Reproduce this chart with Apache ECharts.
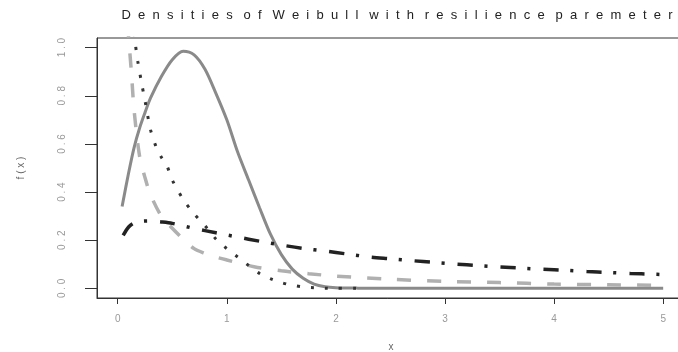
<!DOCTYPE html>
<html>
<head>
<meta charset="utf-8">
<script src="https://cdn.jsdelivr.net/npm/echarts@6/dist/echarts.min.js"></script>
<style>
  html, body { margin: 0; padding: 0; background: #fff; }
  #chart { width: 678px; height: 352px; }
</style>
</head>
<body>
<div id="chart"></div>
<script>
// 曲线数据
var solidX = [0.04, 0.1, 0.15, 0.2, 0.25, 0.3, 0.4, 0.5, 0.6, 0.7, 0.8, 0.9, 1.0, 1.1, 1.2, 1.3, 1.4, 1.5, 1.6, 1.7, 1.8, 1.9, 2.0, 2.2, 2.5, 3, 3.5, 4, 4.5, 5];
var solidY = [0.34, 0.48, 0.585, 0.665, 0.73, 0.79, 0.88, 0.95, 0.985, 0.97, 0.91, 0.81, 0.70, 0.565, 0.45, 0.335, 0.225, 0.14, 0.08, 0.042, 0.018, 0.007, 0.003, 0.001, 0, 0, 0, 0, 0, 0];

var dashX = [0.09, 0.1, 0.125, 0.15, 0.2, 0.25, 0.3, 0.4, 0.5, 0.6, 0.7, 0.8, 0.9, 1.0, 1.25, 1.5, 1.75, 2.0, 2.5, 3.0, 3.5, 4.0, 4.5, 5.0];
var dashY = [1.10, 1.04, 0.90, 0.74, 0.55, 0.46, 0.39, 0.30, 0.25, 0.205, 0.165, 0.145, 0.13, 0.118, 0.09, 0.073, 0.061, 0.051, 0.038, 0.029, 0.024, 0.018, 0.015, 0.013];

var dotX = [0.15, 0.16, 0.185, 0.22, 0.25, 0.3, 0.35, 0.4, 0.45, 0.5, 0.6, 0.7, 0.8, 0.9, 1.0, 1.1, 1.2, 1.3, 1.4, 1.5, 1.6, 1.7, 1.8, 1.9, 2.0, 2.2];
var dotY = [1.06, 1.02, 0.94, 0.85, 0.78, 0.66, 0.59, 0.545, 0.51, 0.45, 0.37, 0.31, 0.26, 0.205, 0.165, 0.13, 0.095, 0.062, 0.04, 0.024, 0.013, 0.006, 0.003, 0.001, 0, 0];

var dotdashX = [0.05, 0.1, 0.15, 0.2, 0.3, 0.4, 0.5, 0.7, 0.9, 1.1, 1.3, 1.5, 1.7, 1.9, 2.1, 2.3, 2.5, 2.7, 2.9, 3.1, 3.3, 3.5, 3.7, 3.9, 4.1, 4.3, 4.5, 4.7, 4.9, 5.0];
var dotdashY = [0.22, 0.255, 0.272, 0.278, 0.28, 0.276, 0.27, 0.249, 0.231, 0.213, 0.196, 0.180, 0.166, 0.155, 0.143, 0.131, 0.123, 0.115, 0.108, 0.101, 0.095, 0.089, 0.084, 0.079, 0.075, 0.07, 0.066, 0.062, 0.059, 0.057];

var xTicks = [0, 1, 2, 3, 4, 5];
var yTicks = [0, 0.2, 0.4, 0.6, 0.8, 1.0];

function pairs(xs, ys) {
  var arr = [];
  for (var i = 0; i < xs.length; i++) arr.push([xs[i], ys[i]]);
  return arr;
}
function spaced(s, gap) { return s.split('').join(gap || ' '); }
// 标题：字母间两个空格，单词间三个空格
function spacedTitle(s) {
  return s.split(' ').map(function (w) { return spaced(w, '  '); }).join('   ');
}

var myChart = echarts.init(document.getElementById('chart'));
var font = 'Liberation Sans, Arial, sans-serif';

var option = {
  animation: false,
  title: {
    text: spacedTitle('Densities of Weibull with resilience paremeter'),
    left: 392,
    textAlign: 'center',
    top: 4,
    textStyle: { fontFamily: font, fontSize: 13, fontWeight: 'normal', color: '#222' }
  },
  grid: {
    left: 97, top: 38, right: -7, bottom: 54,
    outerBoundsMode: 'none',
    show: true, borderColor: '#333', borderWidth: 1
  },
  xAxis: {
    type: 'value',
    min: -0.19, max: 5.2,
    name: 'x',
    nameLocation: 'middle',
    nameGap: 44,
    nameTextStyle: { fontFamily: font, fontSize: 10, color: '#666' },
    splitLine: { show: false },
    axisLine: { show: true, onZero: false, lineStyle: { color: '#333' } },
    axisTick: { show: true, customValues: xTicks, length: 6, lineStyle: { color: '#333' } },
    axisLabel: { customValues: xTicks, margin: 16, fontFamily: font, fontSize: 10, color: '#999' }
  },
  yAxis: {
    type: 'value',
    min: -0.04, max: 1.04,
    name: spaced('f(x)'),
    nameLocation: 'middle',
    nameGap: 71,
    nameTextStyle: { fontFamily: font, fontSize: 10, color: '#666' },
    splitLine: { show: false },
    axisLine: { show: true, onZero: false, lineStyle: { color: '#333' } },
    axisTick: { show: true, customValues: yTicks, length: 12, lineStyle: { color: '#333' } },
    axisLabel: {
      customValues: yTicks, rotate: 90, margin: 30,
      fontFamily: font, fontSize: 10, color: '#999',
      formatter: function (v) { return spaced(v.toFixed(1)); }
    }
  },
  series: [
    {
      type: 'line', data: pairs(solidX, solidY), smooth: 0.3, showSymbol: false, clip: true,
      lineStyle: { color: '#8a8a8a', width: 3 }
    },
    {
      type: 'line', data: pairs(dashX, dashY), smooth: 0.3, showSymbol: false, clip: true,
      lineStyle: { color: '#b0b0b0', width: 3.5, type: [14, 16], cap: 'butt' }
    },
    {
      type: 'line', data: pairs(dotX, dotY), smooth: 0.3, showSymbol: false, clip: true,
      lineStyle: { color: '#333', width: 3, type: [3, 11], cap: 'butt' }
    },
    {
      type: 'line', data: pairs(dotdashX, dotdashY), smooth: 0.3, showSymbol: false, clip: true,
      lineStyle: { color: '#222', width: 3.5, type: [15, 12, 3, 13], cap: 'butt' }
    }
  ]
};
myChart.setOption(option);
</script>
</body>
</html>
